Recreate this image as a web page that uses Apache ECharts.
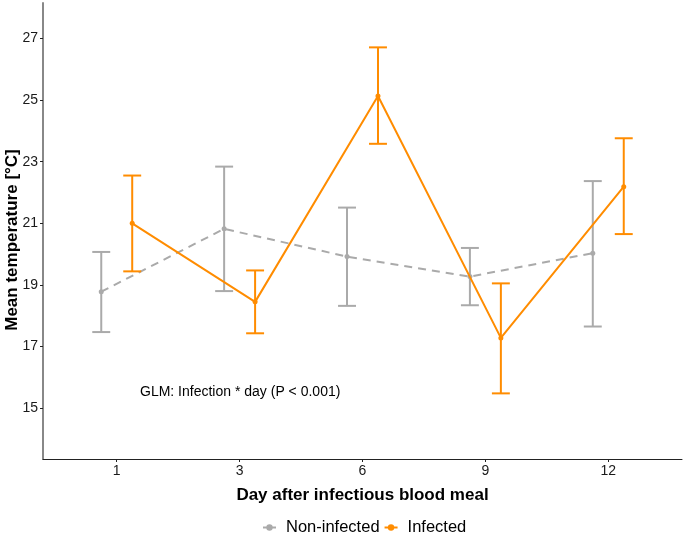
<!DOCTYPE html>
<html>
<head>
<meta charset="utf-8">
<script src="https://cdn.jsdelivr.net/npm/echarts@6/dist/echarts.min.js"></script>
<style>
html,body{margin:0;padding:0;background:#fff;}
#chart{width:685px;height:536px;}
</style>
</head>
<body>
<div id="chart"></div>
<script>
const categories = ['1', '3', '6', '9', '12'];
const nonInfMean = [18.78, 20.82, 19.92, 19.27, 20.03];
const nonInfLow  = [17.47, 18.80, 18.32, 18.34, 17.65];
const nonInfHigh = [20.07, 22.84, 21.51, 20.20, 22.37];
const infMean = [21.00, 18.45, 25.13, 17.28, 22.19];
const infLow  = [19.44, 17.43, 23.58, 15.48, 20.65];
const infHigh = [22.55, 19.47, 26.71, 19.05, 23.76];
const yTicks = [15, 17, 19, 21, 23, 25, 27];
const seriesNames = ['Non-infected', 'Infected'];
const annotation = 'GLM: Infection * day (P < 0.001)';

const DODGE = 0.126;
const GRAY = '#AAAAAA';
const ORANGE = '#FF8C00';
const FONT = '"Liberation Sans", Arial, sans-serif';

function pts(means, off) { return means.map((v, i) => [i + 1 + off, v]); }
function errs(lo, hi, off) { return lo.map((v, i) => [i + 1 + off, v, hi[i]]); }

function errRender(color) {
  return function (params, api) {
    const x = api.value(0);
    const a = api.coord([x, api.value(1)]);
    const b = api.coord([x, api.value(2)]);
    const hw = api.size([0.073, 0])[0];
    const st = { stroke: color, lineWidth: 2 };
    return {
      type: 'group',
      children: [
        { type: 'line', shape: { x1: a[0], y1: a[1], x2: b[0], y2: b[1] }, style: st },
        { type: 'line', shape: { x1: a[0] - hw, y1: a[1], x2: a[0] + hw, y2: a[1] }, style: st },
        { type: 'line', shape: { x1: b[0] - hw, y1: b[1], x2: b[0] + hw, y2: b[1] }, style: st }
      ]
    };
  };
}

const chart = echarts.init(document.getElementById('chart'), null, { renderer: 'canvas' });
chart.setOption({
  animation: false,
  backgroundColor: '#fff',
  grid: { left: 43, right: 3, top: 3, bottom: 77, containLabel: false, outerBoundsMode: 'none' },
  xAxis: {
    type: 'value', min: 0.4, max: 5.6,
    name: 'Day after infectious blood meal', nameLocation: 'middle', nameGap: 28, nameMoveOverlap: false,
    nameTextStyle: { fontFamily: FONT, fontWeight: 'bold', fontSize: 17, color: '#000' },
    splitLine: { show: false },
    axisLine: { lineStyle: { color: '#222', width: 1 } },
    axisTick: { customValues: [1, 2, 3, 4, 5], length: 3, lineStyle: { color: '#222' } },
    axisLabel: { customValues: [1, 2, 3, 4, 5], formatter: v => categories[Math.round(v) - 1],
      fontFamily: FONT, fontSize: 14, color: '#1a1a1a', margin: 5 }
  },
  yAxis: {
    type: 'value', min: 13.35, max: 28.15,
    name: 'Mean temperature [°C]', nameLocation: 'middle', nameGap: 22, nameMoveOverlap: false,
    nameTextStyle: { fontFamily: FONT, fontWeight: 'bold', fontSize: 17, color: '#000', padding: [0, 18, 0, 0] },
    splitLine: { show: false },
    axisLine: { show: true, lineStyle: { color: '#888', width: 2 } },
    axisTick: { show: true, customValues: yTicks, length: 3, lineStyle: { color: '#222' } },
    axisLabel: { customValues: yTicks, fontFamily: FONT, fontSize: 14, color: '#1a1a1a', margin: 5 }
  },
  legend: {
    data: seriesNames, bottom: -5, left: 257, itemWidth: 13, itemHeight: 8, itemGap: 4,
    textStyle: { fontFamily: FONT, fontSize: 16.5, color: '#000', padding: [0, 0, 0, 5] },
    lineStyle: { type: 'solid' }
  },
  graphic: [{
    type: 'text', left: 140, top: 385,
    style: { text: annotation, font: '14px ' + FONT, fill: '#000' }
  }],
  series: [
    { name: 'nonInfErr', type: 'custom', renderItem: errRender(GRAY), data: errs(nonInfLow, nonInfHigh, -DODGE), z: 2,
      encode: { x: 0, y: [1, 2] } },
    { name: seriesNames[0], type: 'line', data: pts(nonInfMean, -DODGE), color: GRAY,
      lineStyle: { color: GRAY, width: 2, type: [8, 6] }, symbol: 'circle', symbolSize: 5,
      itemStyle: { color: GRAY }, z: 3 },
    { name: 'infErr', type: 'custom', renderItem: errRender(ORANGE), data: errs(infLow, infHigh, DODGE), z: 4,
      encode: { x: 0, y: [1, 2] } },
    { name: seriesNames[1], type: 'line', data: pts(infMean, DODGE), color: ORANGE,
      lineStyle: { color: ORANGE, width: 2 }, symbol: 'circle', symbolSize: 5,
      itemStyle: { color: ORANGE }, z: 5 }
  ]
});
</script>
</body>
</html>
